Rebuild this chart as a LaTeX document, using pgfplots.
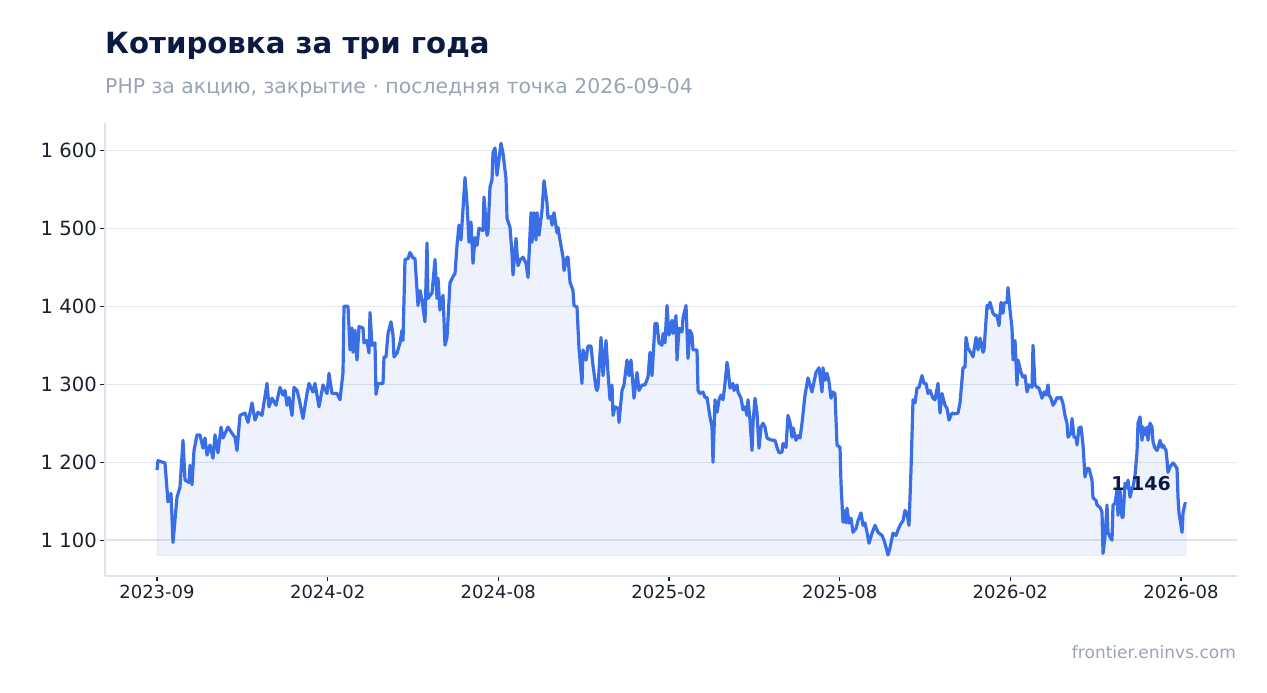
\documentclass[border=0pt]{standalone}
\usepackage{fontspec}
\setmainfont{DejaVu Sans}
\usepackage{pgfplots}
\usepgfplotslibrary{fillbetween}
\pgfplotsset{compat=1.18}
\usepackage{pgfplotstable}

\definecolor{lineblue}{RGB}{58,110,230}
\definecolor{titlenavy}{RGB}{11,26,64}
\definecolor{subgray}{RGB}{152,163,181}
\definecolor{gridgray}{RGB}{226,230,238}
\definecolor{spinegray}{RGB}{221,227,238}
\definecolor{tickdark}{RGB}{26,32,44}

% x: position along the three-year span, y: close price
\pgfplotstableread{
x y
0 1190
1 1202
8 1199
11 1149
14 1160
16 1097
20 1155
23 1168
26 1228
28 1177
32 1174
33 1196
35 1171
37 1215
40 1235
43 1235
46 1218
48 1231
50 1209
53 1222
56 1205
58 1235
61 1212
64 1245
66 1231
71 1245
75 1237
78 1232
80 1215
83 1260
88 1263
91 1251
95 1276
98 1254
101 1264
105 1260
110 1301
112 1271
115 1282
119 1273
123 1296
126 1286
128 1292
130 1273
132 1283
135 1260
137 1296
140 1292
142 1282
146 1256
150 1288
152 1301
156 1290
158 1301
162 1271
166 1299
170 1288
172 1314
175 1288
180 1288
183 1280
186 1315
187 1400
191 1400
193 1344
195 1372
196 1341
198 1369
200 1331
202 1374
206 1372
207 1353
210 1356
212 1340
213 1392
215 1350
218 1353
219 1287
221 1301
226 1301
227 1335
229 1335
231 1365
234 1380
236 1363
237 1335
240 1340
243 1353
245 1369
246 1356
248 1460
251 1461
253 1469
256 1462
258 1461
261 1401
263 1420
265 1408
268 1380
270 1481
271 1410
275 1417
278 1460
280 1410
281 1436
283 1395
286 1414
288 1350
290 1360
293 1430
296 1438
298 1442
300 1478
302 1504
304 1485
308 1565
310 1532
312 1482
314 1508
316 1455
318 1488
320 1478
322 1500
326 1497
327 1540
330 1491
331 1495
333 1553
335 1562
336 1597
338 1603
340 1568
344 1609
346 1596
349 1564
350 1513
353 1501
355 1468
356 1440
359 1487
361 1452
363 1459
366 1463
369 1455
371 1437
374 1520
375 1482
377 1520
379 1485
380 1520
382 1491
385 1523
387 1561
390 1532
391 1513
394 1515
395 1504
397 1520
400 1494
401 1501
403 1485
406 1463
407 1446
410 1463
411 1463
413 1431
416 1420
417 1401
420 1399
422 1346
425 1301
426 1344
429 1331
431 1349
434 1349
436 1324
439 1295
440 1292
441 1296
444 1360
446 1311
449 1356
451 1314
453 1280
455 1299
456 1260
458 1271
461 1269
462 1251
465 1292
467 1299
470 1331
472 1311
474 1331
477 1282
480 1315
482 1292
485 1299
488 1299
491 1309
493 1341
495 1311
498 1378
500 1378
502 1353
505 1350
506 1365
508 1353
510 1401
512 1363
515 1382
516 1365
519 1388
520 1331
522 1372
525 1367
526 1385
529 1401
531 1333
533 1369
535 1363
536 1344
540 1344
541 1292
543 1288
546 1290
548 1283
550 1283
553 1258
555 1245
556 1200
558 1280
560 1264
562 1280
564 1286
566 1280
568 1301
570 1328
571 1320
573 1295
576 1301
577 1292
580 1299
581 1290
584 1282
586 1267
588 1271
590 1260
591 1280
593 1254
595 1215
596 1250
598 1282
600 1263
602 1218
604 1245
606 1250
608 1245
610 1231
613 1229
616 1228
618 1228
620 1219
622 1212
625 1213
626 1224
629 1219
631 1260
633 1251
635 1232
636 1244
639 1228
641 1234
643 1231
645 1250
648 1286
651 1308
653 1299
655 1290
657 1303
659 1315
662 1321
665 1290
666 1321
668 1305
670 1314
672 1303
674 1282
676 1290
678 1288
680 1222
683 1219
684 1173
686 1123
687 1138
689 1122
690 1141
692 1122
694 1128
696 1110
699 1115
701 1125
704 1135
706 1119
708 1122
710 1110
712 1096
715 1109
718 1119
721 1110
725 1106
727 1100
729 1091
731 1081
733 1090
736 1109
739 1106
741 1113
743 1119
746 1125
748 1138
750 1134
752 1119
754 1190
756 1280
758 1276
760 1295
762 1296
765 1311
767 1301
769 1301
771 1288
773 1292
776 1282
778 1280
781 1301
783 1263
785 1288
788 1273
790 1269
792 1254
795 1263
798 1262
801 1263
803 1276
806 1321
808 1322
809 1360
811 1346
814 1340
816 1335
819 1360
821 1344
823 1359
826 1341
827 1344
830 1401
831 1397
833 1405
836 1391
838 1388
840 1388
842 1375
844 1405
846 1391
847 1404
850 1405
851 1424
853 1395
855 1372
856 1331
858 1356
860 1299
861 1331
864 1315
866 1309
868 1311
870 1290
872 1299
875 1296
876 1350
878 1299
880 1296
882 1295
885 1282
887 1290
889 1286
891 1299
892 1286
894 1282
896 1273
898 1277
900 1283
902 1282
904 1283
906 1275
908 1260
910 1250
911 1232
914 1237
915 1256
917 1232
919 1232
920 1222
922 1244
924 1245
926 1222
928 1181
930 1192
932 1192
935 1177
936 1154
939 1151
940 1145
943 1142
945 1136
946 1083
948 1104
950 1145
951 1110
953 1104
955 1100
956 1145
958 1147
960 1164
961 1132
963 1164
965 1129
966 1129
968 1173
970 1167
971 1177
973 1155
975 1167
976 1168
978 1183
980 1213
981 1250
983 1258
985 1228
986 1245
988 1235
990 1245
991 1228
993 1250
995 1245
996 1226
998 1218
1000 1215
1001 1218
1003 1228
1005 1219
1006 1222
1009 1215
1010 1203
1011 1187
1013 1194
1016 1199
1018 1196
1020 1192
1021 1155
1022 1135
1025 1110
1026 1135
1028 1147
1029 1146
}\price

\begin{document}
\begin{tikzpicture}
\node[anchor=base west, inner sep=0pt, text=titlenavy, font=\fontsize{29.2bp}{34bp}\selectfont\bfseries]
  at (105bp,639.5bp) {Котировка за три года};
\node[anchor=base west, inner sep=0pt, text=subgray, font=\fontsize{20.4bp}{24bp}\selectfont]
  at (105bp,599.5bp) {РНР за акцию, закрытие · последняя точка 2026-09-04};
\node[anchor=base east, inner sep=0pt, text=subgray, font=\fontsize{17bp}{20bp}\selectfont]
  at (1236bp,35bp) {frontier.eninvs.com};

\begin{axis}[
  at={(105bp,117bp)},
  anchor=south west,
  scale only axis,
  width=1132bp,
  height=453bp,
  xmin=-52, xmax=1080,
  ymin=1054, ymax=1635,
  axis x line*=bottom,
  axis y line*=left,
  axis line style={-, draw=spinegray, line width=1.4bp},
  tick align=outside,
  major tick length=5bp,
  tick style={draw=tickdark, line width=1.2bp},
  xtick={0,170.67,341.33,512,682.67,853.33,1024},
  xticklabels={2023-09,2024-02,2024-08,2025-02,2025-08,2026-02,2026-08},
  ytick={1100,1200,1300,1400,1500,1600},
  yticklabels={1 100,1 200,1 300,1 400,1 500,1 600},
  xticklabel style={font=\fontsize{18bp}{20bp}\selectfont, text=tickdark, inner sep=0pt, anchor=north, yshift=-4bp},
  yticklabel style={font=\fontsize{19.6bp}{22bp}\selectfont, text=tickdark, inner sep=0pt, anchor=east, xshift=-3bp},
  ymajorgrids,
  major grid style={draw=gridgray, line width=1.3bp},
]
  \addplot[name path=price, draw=lineblue, line width=3.2bp, line join=round] table[x=x, y=y] {\price};
  \addplot[draw=none, name path=base, forget plot] coordinates {(0,1080) (1029,1080)};
  \addplot[fill=lineblue, fill opacity=0.09, draw=lineblue, draw opacity=0.08, line width=1bp]
    fill between[of=price and base];
  \node[text=titlenavy, font=\fontsize{19bp}{22bp}\selectfont\bfseries, inner sep=0pt]
    at (axis cs:984,1173) {1 146};
\end{axis}
\pgfresetboundingbox
\path[use as bounding box] (0,0) rectangle (1267bp,693bp);
\end{tikzpicture}
\end{document}
